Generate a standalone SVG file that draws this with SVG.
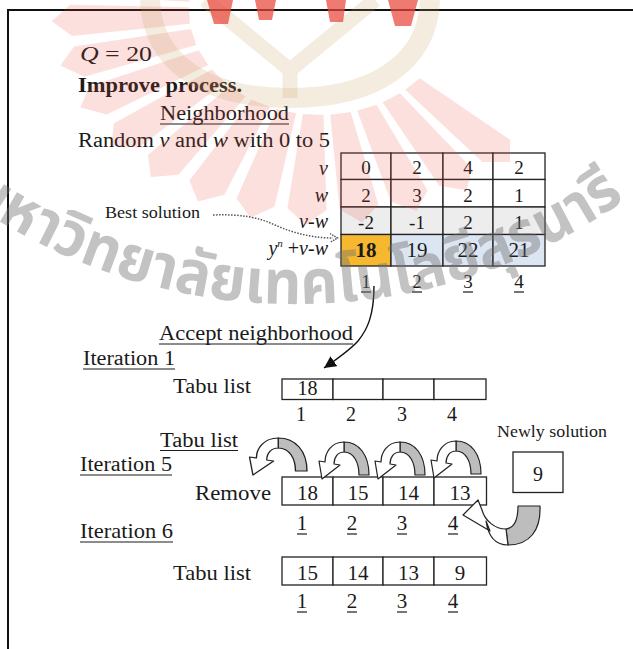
<svg xmlns="http://www.w3.org/2000/svg" width="633" height="649" viewBox="0 0 633 649">
<style>
.t{font-family:"Liberation Serif","Times New Roman",serif;font-size:20px;fill:#1a1a1a}
.b{font-weight:bold}
.i{font-style:italic}
.c{text-anchor:middle}
.e{text-anchor:end}
.sm{font-size:17px}
.md{font-size:19px}
.lg{font-size:21px}
.cell{fill:#fff;stroke:#222;stroke-width:1.3}
.ul{stroke:#1a1a1a;stroke-width:1.2}
.gr{fill:#bdbdbd;stroke:#222;stroke-width:1.2;stroke-linejoin:round}
.wh{fill:#fff;stroke:#222;stroke-width:1.2;stroke-linejoin:round}
.ray{fill:#e8463a;fill-opacity:.17}
.bei{fill:none;stroke:#c8a060;stroke-opacity:.2}
</style>
<defs>
<marker id="tri" markerUnits="userSpaceOnUse" markerWidth="14" markerHeight="14" refX="12" refY="6" orient="auto">
<path d="M0,0 L12,6 L0,12 Z" fill="#111"/>
</marker>
<g id="carr">
<path class="gr" d="M0,0 C0,-20 -10,-33 -25,-33 L-25,-23 C-15,-23 -10,-12 -10,0 Z"/>
<path class="wh" d="M-25,-33 C-38,-33 -44,-22 -44,-13 L-50,-14 L-47,4 L-29,-10 L-35,-11 C-35,-18 -31,-23 -25,-23 Z"/>
</g>
<path id="wmarc" d="M-40,195 A572,572 0 0,0 680,156"/>
</defs>
<rect width="633" height="649" fill="#fff"/>
<path d="M8,649 V10 H633" fill="none" stroke="#111" stroke-width="2"/>

<g id="header">
<text class="t" x="80" y="61" font-size="21" textLength="72" lengthAdjust="spacingAndGlyphs"><tspan class="i">Q</tspan> = 20</text>
<text class="t b" x="78" y="92" textLength="164" lengthAdjust="spacingAndGlyphs">Improve process.</text>
<text class="t" x="160" y="120" textLength="129" lengthAdjust="spacingAndGlyphs">Neighborhood</text>
<line class="ul" x1="160" y1="124" x2="289" y2="124"/>
<text class="t" x="78" y="147" textLength="252" lengthAdjust="spacingAndGlyphs">Random <tspan class="i">v</tspan> and <tspan class="i">w</tspan> with 0 to 5</text>
</g>

<g id="best-solution">
<text class="t sm" x="105" y="218" textLength="95" lengthAdjust="spacingAndGlyphs">Best solution</text>
</g>

<g id="table">
<text class="t e i" x="328" y="175">v</text>
<text class="t e i" x="328" y="201.5">w</text>
<text class="t e" x="328" y="228"><tspan class="i">v</tspan>-<tspan class="i">w</tspan></text>
<text class="t e" x="328" y="255"><tspan class="i">y</tspan><tspan class="i" font-size="11" dy="-8">n</tspan><tspan dy="8"> +</tspan><tspan class="i">v</tspan>-<tspan class="i">w</tspan></text>
<g class="cell">
<rect x="341" y="153" width="50" height="26.5"/><rect x="391" y="153" width="52" height="26.5"/><rect x="443" y="153" width="50" height="26.5"/><rect x="493" y="153" width="52" height="26.5"/>
<rect x="341" y="179.5" width="50" height="27.5"/><rect x="391" y="179.5" width="52" height="27.5"/><rect x="443" y="179.5" width="50" height="27.5"/><rect x="493" y="179.5" width="52" height="27.5"/>
</g>
<g class="cell" style="fill:#ededed">
<rect x="341" y="207" width="50" height="27.5"/><rect x="391" y="207" width="52" height="27.5"/><rect x="443" y="207" width="50" height="27.5"/><rect x="493" y="207" width="52" height="27.5"/>
</g>
<rect class="cell" style="fill:#f5b82e" x="341" y="234.5" width="50" height="31.5"/>
<g class="cell" style="fill:#dce6f2">
<rect x="391" y="234.5" width="52" height="31.5"/><rect x="443" y="234.5" width="50" height="31.5"/><rect x="493" y="234.5" width="52" height="31.5"/>
</g>
<g class="t c md">
<text x="366" y="174">0</text><text x="417" y="174">2</text><text x="468" y="174">4</text><text x="519" y="174">2</text>
<text x="366" y="201.5">2</text><text x="417" y="201.5">3</text><text x="468" y="201.5">2</text><text x="519" y="201.5">1</text>
<text x="366" y="228.5">-2</text><text x="417" y="228.5">-1</text><text x="468" y="228.5">2</text><text x="519" y="228.5">1</text>
</g>
<g class="t c lg">
<text class="b" x="366" y="256.5">18</text><text x="417" y="256.5">19</text><text x="468" y="256.5">22</text><text x="519" y="256.5">21</text>
</g>
<g class="t c md">
<text x="366" y="288">1</text><text x="417" y="288">2</text><text x="468" y="288">3</text><text x="519" y="288">4</text>
</g>
<g class="ul">
<line x1="361" y1="292" x2="371" y2="292"/><line x1="412" y1="292" x2="422" y2="292"/><line x1="463" y1="292" x2="473" y2="292"/><line x1="514" y1="292" x2="524" y2="292"/>
</g>
</g>

<g id="accept">
<text class="t" x="159" y="340" textLength="194" lengthAdjust="spacingAndGlyphs">Accept neighborhood</text>
<line class="ul" x1="159" y1="344" x2="353" y2="344"/>
</g>

<g id="iteration1">
<text class="t" x="83" y="365" textLength="92" lengthAdjust="spacingAndGlyphs">Iteration 1</text>
<line class="ul" x1="83" y1="369" x2="175" y2="369"/>
<text class="t" x="173" y="393" textLength="78" lengthAdjust="spacingAndGlyphs">Tabu list</text>
<g class="cell">
<rect x="282" y="379" width="51" height="20.5"/><rect x="333" y="379" width="50" height="20.5"/><rect x="383" y="379" width="51" height="20.5"/><rect x="434" y="379" width="52" height="20.5"/>
</g>
<text class="t c" x="307.5" y="394.5" font-size="19">18</text>
<g class="t c">
<text x="301" y="421">1</text><text x="351" y="421">2</text><text x="402" y="421">3</text><text x="452" y="421">4</text>
</g>
</g>

<g id="iteration5">
<text class="t" x="160" y="446.5" textLength="78" lengthAdjust="spacingAndGlyphs">Tabu list</text>
<line class="ul" x1="160" y1="450.5" x2="238" y2="450.5"/>
<text class="t" x="80" y="471" textLength="92" lengthAdjust="spacingAndGlyphs">Iteration 5</text>
<line class="ul" x1="80" y1="475" x2="172" y2="475"/>
<text class="t lg" x="195" y="500" textLength="76" lengthAdjust="spacingAndGlyphs">Remove</text>
<g class="cell">
<rect x="282" y="477" width="51" height="28"/><rect x="333" y="477" width="50" height="28"/><rect x="383" y="477" width="51" height="28"/><rect x="434" y="477" width="52.5" height="28"/>
</g>
<g class="t c lg">
<text x="307.5" y="499.5">18</text><text x="358" y="499.5">15</text><text x="408.5" y="499.5">14</text><text x="460" y="499.5">13</text>
</g>
<g class="t c lg">
<text x="302" y="530">1</text><text x="352" y="530">2</text><text x="402" y="530">3</text><text x="453" y="530">4</text>
</g>
<g class="ul">
<line x1="297" y1="534" x2="307" y2="534"/><line x1="347" y1="534" x2="357" y2="534"/><line x1="397" y1="534" x2="407" y2="534"/><line x1="448" y1="534" x2="458" y2="534"/>
</g>
</g>

<g id="newly-solution">
<text class="t sm" x="497" y="437" textLength="110" lengthAdjust="spacingAndGlyphs">Newly solution</text>
<rect class="cell" x="513" y="452" width="50" height="40.5"/>
<text class="t c" x="538" y="481">9</text>
</g>

<g id="iteration6">
<text class="t lg" x="80" y="538" textLength="93" lengthAdjust="spacingAndGlyphs">Iteration 6</text>
<line class="ul" x1="80" y1="542" x2="173" y2="542"/>
<text class="t lg" x="173" y="580" textLength="78" lengthAdjust="spacingAndGlyphs">Tabu list</text>
<g class="cell">
<rect x="282" y="557" width="51" height="28"/><rect x="333" y="557" width="50" height="28"/><rect x="383" y="557" width="51" height="28"/><rect x="434" y="557" width="52.5" height="28"/>
</g>
<g class="t c lg">
<text x="307.5" y="579.5">15</text><text x="358" y="579.5">14</text><text x="408.5" y="579.5">13</text><text x="460" y="579.5">9</text>
</g>
<g class="t c lg">
<text x="302" y="608">1</text><text x="352" y="608">2</text><text x="402" y="608">3</text><text x="453" y="608">4</text>
</g>
<g class="ul">
<line x1="297" y1="612" x2="307" y2="612"/><line x1="347" y1="612" x2="357" y2="612"/><line x1="397" y1="612" x2="407" y2="612"/><line x1="448" y1="612" x2="458" y2="612"/>
</g>
</g>

<g id="connectors">
<path d="M213,215 C240,214 258,217 275,225 C295,234 315,238 333,238" fill="none" stroke="#555" stroke-width="1.5" stroke-dasharray="1.5 1.5"/>
<path d="M330,233.5 L337.5,238 L330,242.5" fill="none" stroke="#555" stroke-width="1.4" stroke-dasharray="1.5 1"/>
<path d="M374,286 C374,316 367,330 358,341 C350,350 340,357 324,368" fill="none" stroke="#111" stroke-width="1.4" marker-end="url(#tri)"/>
<use href="#carr" transform="translate(307,471) scale(1.15,1)"/>
<use href="#carr" transform="translate(369,475)"/>
<use href="#carr" transform="translate(425,475)"/>
<use href="#carr" transform="translate(481,474)"/>
<path class="gr" d="M540,506 C541,530 530,545 508,545 L506,529 C514,528 518,520 518,506 Z"/>
<path class="wh" d="M508,545 C494,545 488,535 486,521 L490,531 L463,515 L478,500 L482,510 C485,521 495,529 506,529 Z"/>
</g>

<g id="watermark">
<g transform="translate(320,10) scale(1.25,1)">
<polygon class="ray" points="79.8,68.2 152.1,129.9 152,152 129.9,152.1 68.2,79.8"/>
<polygon class="ray" points="63.9,83.3 121.8,158.7 117.1,180.3 95.4,175.8 50.1,92.3"/>
<polygon class="ray" points="45.2,94.8 86.1,180.5 77.1,200.7 56.8,191.8 29.8,100.7"/>
<polygon class="ray" points="24.5,102.1 46.7,194.5 33.6,212.4 15.7,199.4 8.2,104.7"/>
<polygon class="ray" points="2.8,105 5.2,199.9 -11.2,214.7 -26.1,198.3 -13.7,104.1"/>
<polygon class="ray" points="-19.1,103.2 -36.4,196.7 -55.6,207.7 -66.8,188.5 -35,99"/>
<polygon class="ray" points="-40.2,97 -76.5,184.8 -97.6,191.6 -104.5,170.5 -54.9,89.5"/>
<polygon class="ray" points="-59.5,86.5 -113.3,164.8 -135.3,167.1 -137.7,145.1 -72.3,76.2"/>
<polygon class="ray" points="-76.2,72.3 -145.1,137.7 -167.1,135.3 -164.8,113.3 -86.5,59.5"/>
<polygon class="ray" points="-89.5,54.9 -170.5,104.5 -191.6,97.6 -184.8,76.5 -97,40.2"/>
<polygon class="ray" points="-99,35 -188.5,66.8 -207.7,55.6 -196.7,36.4 -103.2,19.1"/>
<polygon class="ray" points="-104.1,13.7 -198.3,26.1 -214.7,11.2 -199.9,-5.2 -105,-2.8"/>
<polygon class="ray" points="-104.7,-8.2 -199.4,-15.7 -212.4,-33.6 -194.5,-46.7 -102.1,-24.5"/>
</g>
<path class="bei" stroke-width="20" d="M150,0 C152,62 205,98 290,98 C375,98 428,62 430,0"/>
<path class="bei" stroke-width="15" d="M205,0 L290,70 L375,0 M290,70 V98"/>
<g fill="#e8463a" fill-opacity=".72">
<polygon points="207,0 233,0 228,24 214,24"/>
<polygon points="255,0 276,0 272,20 259,20"/>
<polygon points="326,0 346,0 343,22 330,22"/>
<polygon points="388,0 418,0 411,26 395,26"/>
</g>
<text font-family="'Noto Sans Thai','Noto Sans','DejaVu Sans',sans-serif" font-size="62" font-weight="bold" fill="#707070" fill-opacity=".42" text-anchor="middle"><textPath href="#wmarc" startOffset="358" textLength="704" lengthAdjust="spacingAndGlyphs">มหาวิทยาลัยเทคโนโลยีสุรนารี</textPath></text>
</g>
</svg>
